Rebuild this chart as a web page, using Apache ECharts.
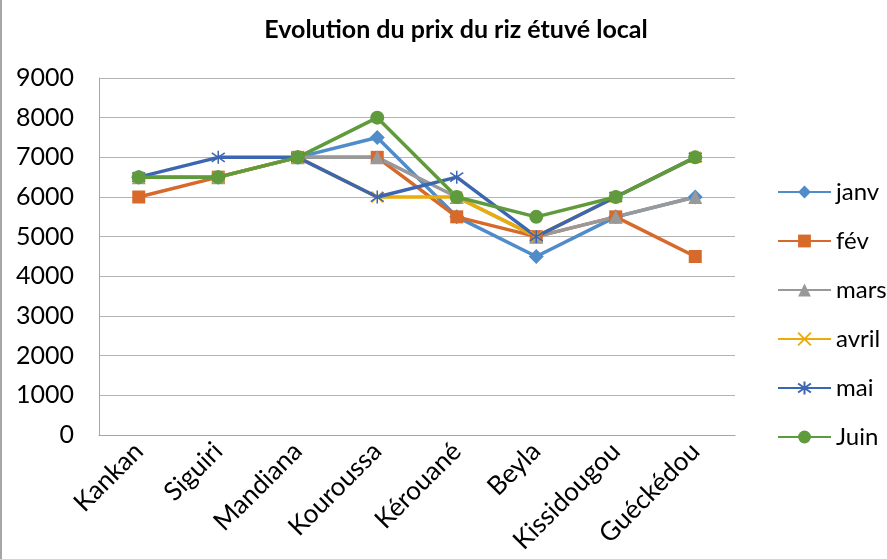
<!DOCTYPE html>
<html>
<head>
<meta charset="utf-8">
<script src="https://cdn.jsdelivr.net/npm/echarts@6/dist/echarts.min.js"></script>
<style>
  html, body { margin: 0; padding: 0; background: #fff; }
  #main { width: 887px; height: 559px; box-sizing: border-box; border-left: 2px solid #a6a6a6; }
</style>
</head>
<body>
<div id="main"></div>
<script>
const cities = ['Kankan', 'Siguiri', 'Mandiana', 'Kouroussa', 'Kérouané', 'Beyla', 'Kissidougou', 'Guéckédou'];

const janv  = [6500, 6500, 7000, 7500, 5500, 4500, 5500, 6000];
const fev   = [6000, 6500, 7000, 7000, 5500, 5000, 5500, 4500];
const mars  = [6500, 6500, 7000, 7000, 6000, 5000, 5500, 6000];
const avril = [6500, 6500, 7000, 6000, 6000, 5000, 6000, 7000];
const mai   = [6500, 7000, 7000, 6000, 6500, 5000, 6000, 7000];
const juin  = [6500, 6500, 7000, 8000, 6000, 5500, 6000, 7000];

const FONT = 'Lato';

const crossSym = 'path://M0,0 L10,10 M10,0 L0,10';
const starSym = 'path://M5,0 L5,10 M0,1.5 L10,8.5 M10,1.5 L0,8.5';

const mk = (name, data, color, symbol, size, stroke) => ({
  name: name,
  type: 'line',
  data: data,
  symbol: symbol,
  symbolSize: size,
  lineStyle: { color: color, width: 3.5 },
  itemStyle: stroke
    ? { color: 'transparent', borderColor: color, borderWidth: 1.5 }
    : { color: color, borderWidth: 0 },
  emphasis: { disabled: true }
});

const chart = echarts.init(document.getElementById('main'));
chart.setOption({
  animation: false,
  backgroundColor: '#fff',
  color: ['#4f8cc9', '#d7692a', '#999999', '#e8ad0c', '#3c66b1', '#5f9b3d'],
  title: {
    text: 'Evolution du prix du riz étuvé local',
    left: 449,
    textAlign: 'center',
    top: 12,
    textStyle: { fontFamily: FONT, fontSize: 25, fontWeight: 'bold', color: '#000' }
  },
  legend: {
    orient: 'vertical',
    left: 770,
    top: 175,
    itemWidth: 53,
    itemHeight: 16,
    itemGap: 25,
    textStyle: { fontFamily: FONT, fontSize: 24, color: '#000' },
    data: ['janv', 'fév', 'mars', 'avril', 'mai', 'Juin']
  },
  grid: { left: 97, right: 152, top: 78, bottom: 124 },
  xAxis: {
    type: 'category',
    data: cities,
    boundaryGap: true,
    axisLine: { lineStyle: { color: '#a6a6a6', width: 1 } },
    axisTick: { show: false },
    axisLabel: { rotate: 45, fontFamily: FONT, fontSize: 26, color: '#000', margin: 12, interval: 0 }
  },
  yAxis: {
    type: 'value',
    min: 0,
    max: 9000,
    interval: 1000,
    axisLine: { show: true, lineStyle: { color: '#a6a6a6' } },
    axisTick: { show: false },
    splitLine: { lineStyle: { color: '#b3b3b3', width: 1.2 } },
    axisLabel: { fontFamily: FONT, fontSize: 25, color: '#000', margin: 25, formatter: v => String(v) }
  },
  series: [
    mk('janv', janv, '#4f8cc9', 'diamond', 15),
    mk('fév', fev, '#d7692a', 'rect', 13),
    mk('mars', mars, '#999999', 'triangle', 14),
    mk('avril', avril, '#e8ad0c', crossSym, 11, true),
    mk('mai', mai, '#3c66b1', starSym, 13, true),
    mk('Juin', juin, '#5f9b3d', 'circle', 14)
  ]
});

window.onresize = () => {
  chart.resize();
};
</script>
</body>
</html>
